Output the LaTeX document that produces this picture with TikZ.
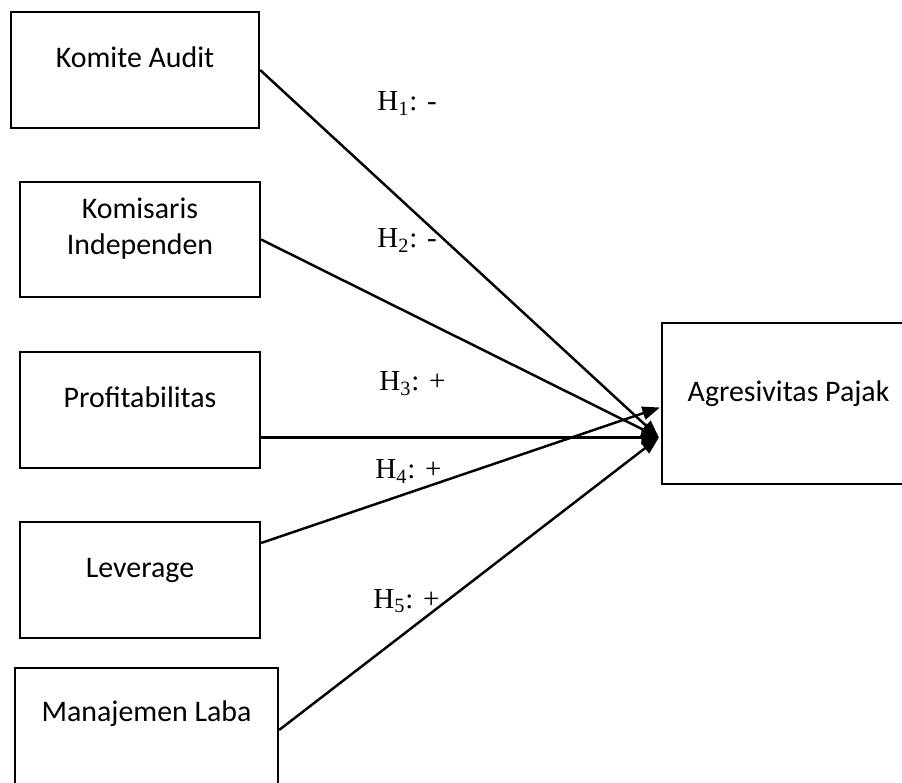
\documentclass[tikz,border=0pt]{standalone}
\usepackage{fontspec}
\setmainfont{Liberation Serif}
\newfontfamily\calibri{Carlito}
\usetikzlibrary{arrows.meta, positioning, calc}

\begin{document}
\begin{tikzpicture}[
    x=0.02cm, y=-0.02cm,
    box/.style={draw, line width=1.3pt, minimum width=4.8cm, minimum height=2.31cm, align=center, inner sep=0pt, font=\fontsize{17}{21}\calibri, text height=6pt, text depth=8.3pt},
    hipo/.style={anchor=base west, inner sep=0pt, font=\fontsize{16.5}{20}\selectfont},
    panah/.style={line width=1.4pt, -{Triangle[length=10pt, width=7.5pt]}},
]
    \useasboundingbox (0,0) rectangle (902,783);
    \clip (0,0) rectangle (902,783);

    \node[box, minimum width=4.96cm, minimum height=2.32cm] (audit) at (135,70) {Komite Audit};
    \node[box, text height=25.9pt] (komisaris) at (140,239.5) {Komisaris\\Independen};
    \node[box] (profit) at (140,410) {Profitabilitas};
    \node[box] (leverage) at (140,580) {Leverage};
    \node[box, minimum width=5.26cm, minimum height=2.44cm, text depth=14pt] (laba) at (146.5,729) {Manajemen Laba};

    \node[box, minimum width=5.06cm, minimum height=3.22cm] (pajak) at (788.5,403.5) {Agresivitas Pajak};

    \coordinate (masuk) at ($(pajak.west)+(-2,34)$);
    \coordinate (atas) at ($(pajak.west)+(-1,4)$);

    \draw[panah] (audit.east) -- (masuk);
    \draw[panah] (komisaris.east) -- (masuk);
    \draw[panah] (profit.east |- masuk) -- (masuk);
    \draw[panah] ($(leverage.east)+(0,-37)$) -- (atas);
    \draw[panah] ($(laba.east)+(0,1)$) -- (masuk);

    \node[hipo] (h1) at (377,111) {H\textsubscript{1}: -};
    \node[hipo] (h2) at (377,248) {H\textsubscript{2}: -};
    \node[hipo] (h3) at (379,391) {H\textsubscript{3}: +};
    \node[hipo] (h4) at (375,479) {H\textsubscript{4}: +};
    \node[hipo] (h5) at (373,608) {H\textsubscript{5}: +};
\end{tikzpicture}
\end{document}
